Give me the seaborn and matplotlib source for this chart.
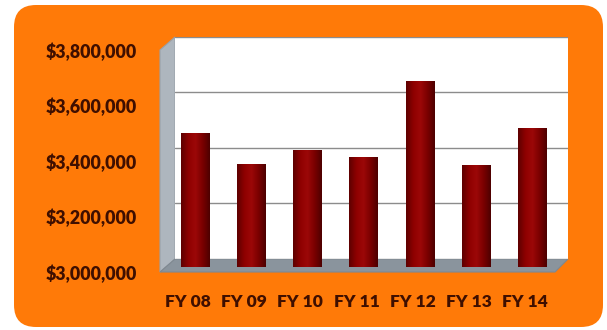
import numpy as np
import matplotlib
matplotlib.use("Agg")
import matplotlib.pyplot as plt
from matplotlib.patches import FancyBboxPatch, Polygon
from matplotlib.transforms import IdentityTransform
from matplotlib.colors import LinearSegmentedColormap
from matplotlib.ticker import FuncFormatter, MultipleLocator
import seaborn as sns

# data
years = ["FY 08", "FY 09", "FY 10", "FY 11", "FY 12", "FY 13", "FY 14"]
budget = [3482000, 3368000, 3420000, 3393000, 3668000, 3364000, 3500000]
y_min, y_max, y_step = 3000000, 3800000, 200000

sns.set_theme(style="white")
plt.rcParams["font.family"] = ["Lato", "DejaVu Sans"]

W, H, DPI = 607, 330, 100
ORANGE = "#FF7A08"
TEXT = "#3F0F00"
fig = plt.figure(figsize=(W / DPI, H / DPI), dpi=DPI, facecolor="white")


def px(x0, y0, x1, y1):
    # pixel box measured from the top-left -> figure fraction rect
    return [x0 / W, 1 - y1 / H, (x1 - x0) / W, (y1 - y0) / H]


def flip(pts):
    return [(x, H - y) for x, y in pts]


# orange rounded card
card = FancyBboxPatch((14, 3), 589, 322, boxstyle="round,pad=0,rounding_size=22",
                      transform=IdentityTransform(), facecolor=ORANGE,
                      edgecolor="none", zorder=-10)
fig.patches.append(card)

# 3d side wall and floor
wall = Polygon(flip([(175, 37), (175, 259), (160, 272), (160, 50)]), closed=True,
               transform=IdentityTransform(), facecolor="#AEB6BE",
               edgecolor="#9AA2AA", lw=0.8, zorder=-5)
floor = Polygon(flip([(175, 259), (568, 259), (555, 272), (160, 272)]), closed=True,
                transform=IdentityTransform(), facecolor="#8A949D",
                edgecolor="#7E8891", lw=0.8, zorder=-5)
fig.patches.extend([wall, floor])

# back wall with gridlines
ax_back = fig.add_axes(px(175, 37, 568, 259))
ax_back.set_facecolor("white")
ax_back.set_ylim(y_min, y_max)
ax_back.yaxis.set_major_locator(MultipleLocator(y_step))
ax_back.grid(axis="y", color="#8C8C8C", lw=1.0)
ax_back.set_xticks([])
ax_back.tick_params(axis="y", length=0, labelleft=False)
for s in ax_back.spines.values():
    s.set_visible(False)

# bars in the middle of the depth
ax_bar = fig.add_axes(px(167, 45, 560, 267))
ax_bar.patch.set_alpha(0)
sns.barplot(x=years, y=budget, color="#800000", width=0.5, ax=ax_bar,
            saturation=1, edgecolor="none")
grad = LinearSegmentedColormap.from_list(
    "bar", ["#5E0000", "#8E0000", "#9C0808", "#7A0000", "#4E0000"])
shade = np.linspace(0, 1, 64).reshape(1, -1)
for p in list(ax_bar.patches):
    x0 = p.get_x()
    x1 = x0 + p.get_width()
    y1 = p.get_y() + p.get_height()
    ax_bar.imshow(shade, cmap=grad, aspect="auto", extent=[x0, x1, y_min, y1],
                  zorder=3, interpolation="bilinear")
ax_bar.set_xlim(-0.5, len(years) - 0.5)
ax_bar.set_ylim(y_min, y_max)
ax_bar.axis("off")

# front plane carries the tick labels
ax_front = fig.add_axes(px(160, 50, 553, 272))
ax_front.patch.set_alpha(0)
ax_front.set_xlim(-0.5, len(years) - 0.5)
ax_front.set_ylim(y_min, y_max)
ax_front.set_xticks(range(len(years)))
ax_front.set_xticklabels(years)
ax_front.yaxis.set_major_locator(MultipleLocator(y_step))
ax_front.yaxis.set_major_formatter(FuncFormatter(lambda v, _: f"${v:,.0f}"))
ax_front.tick_params(axis="y", length=0, pad=16.5, labelsize=12.8, labelcolor=TEXT)
ax_front.tick_params(axis="x", length=0, pad=16, labelsize=12.5, labelcolor=TEXT)
for lbl in ax_front.get_xticklabels() + ax_front.get_yticklabels():
    lbl.set_fontweight("heavy")
for s in ax_front.spines.values():
    s.set_visible(False)

fig.savefig("out.png", dpi=DPI, facecolor="white")
